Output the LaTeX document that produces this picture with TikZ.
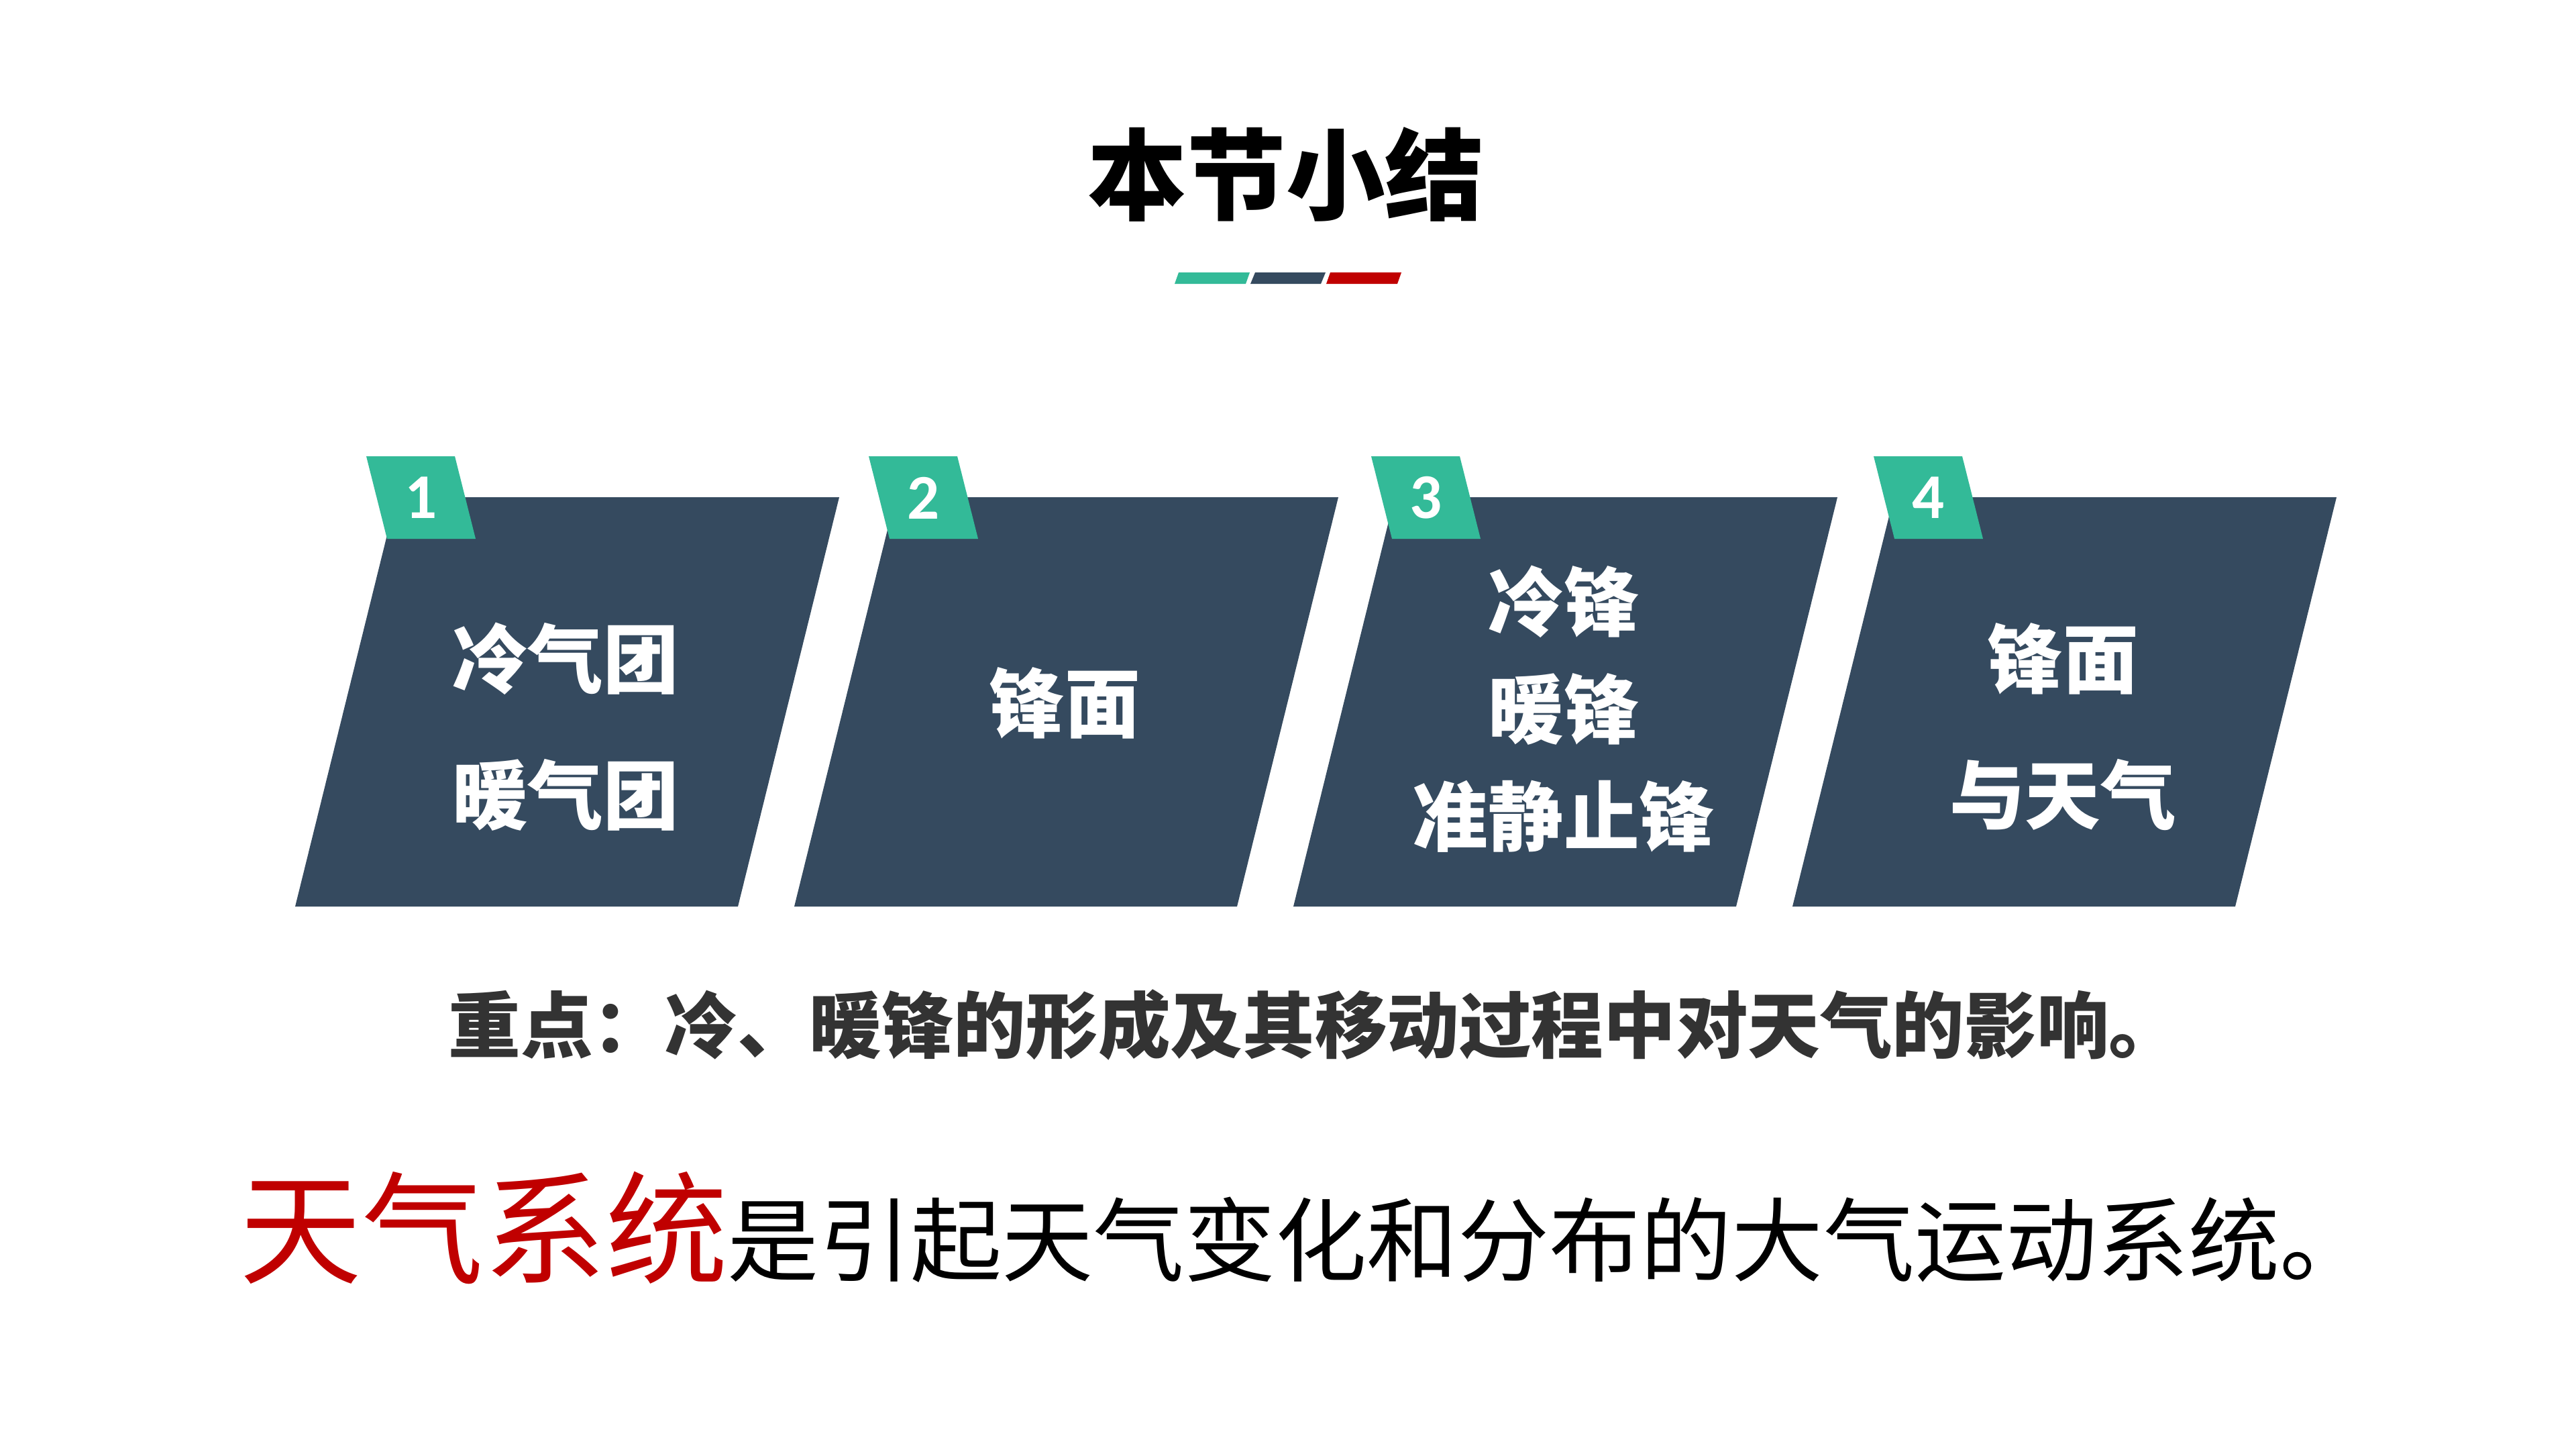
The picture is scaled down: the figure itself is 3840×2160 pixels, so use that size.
\documentclass[tikz,border=0pt]{standalone}
\usepackage{fontspec}
\setmainfont{Noto Sans CJK SC}
\newfontfamily\numfont{Carlito}
\definecolor{slate}{HTML}{354A5F}
\definecolor{tabgreen}{HTML}{33BA98}
\definecolor{accred}{HTML}{C00000}
\definecolor{keytext}{HTML}{333333}
\begin{document}
\begin{tikzpicture}[x=0.01cm,y=-0.01cm,
  panel/.style={fill=slate},
  tabshape/.style={fill=tabgreen},
  paneltext/.style={text=white,font=\fontsize{32}{57.5}\selectfont\bfseries,align=center,inner sep=0pt},
  tabnum/.style={text=white,font=\numfont\bfseries\fontsize{27}{27}\selectfont,inner sep=0pt}]
\useasboundingbox (0,0) rectangle (3840,2160);
\fill[white] (0,0) rectangle (3840,2160);

% title
\node[font=\bfseries\fontsize{42}{42}\selectfont,inner sep=0pt] (title) at (1917,260) {本节小结};
\fill[tabgreen] (1751,423) -- (1857,423) -- (1863,406) -- (1757,406) -- cycle;
\fill[slate] (1864,423) -- (1969,423) -- (1976,406) -- (1871,406) -- cycle;
\fill[accred] (1977,423) -- (2083,423) -- (2089,406) -- (1983,406) -- cycle;

% panels
\foreach \i/\n in {0/1,1/2,2/3,3/4}{
  \pgfmathsetmacro{\dx}{\i*744}
  \pgfmathsetmacro{\tx}{\i*749}
  \fill[panel] (440+\dx,1351) -- (1100+\dx,1351) -- (1251+\dx,741) -- (591+\dx,741) -- cycle;
  \fill[tabshape] (546+\tx,680) -- (678+\tx,680) -- (709+\tx,803) -- (577+\tx,803) -- cycle;
  \node[tabnum] (num\n) at (628+\tx,742) {\n};
}

\node[paneltext] (t1) at (843,1083) {冷气团\\暖气团};
\node[paneltext] (t2) at (1587,1048) {锋面};
\node[paneltext,font=\fontsize{32}{45.5}\selectfont\bfseries] (t3) at (2331,1057) {冷锋\\暖锋\\准静止锋};
\node[paneltext] (t4) at (3075,1083) {锋面\\与天气};

% key point
\node[font=\bfseries\fontsize{30.6}{30.6}\selectfont,text=keytext,anchor=west,inner sep=0pt] (key) at (668,1527) {重点：冷、暖锋的形成及其移动过程中对天气的影响。};

% definition
\node[anchor=base west,inner sep=0pt] (sys) at (357,1899) {{\color{accred}\fontsize{51.7}{52}\selectfont 天气系统}{\fontsize{38.7}{39}\selectfont 是引起天气变化和分布的大气运动系统。}};
\end{tikzpicture}
\end{document}
